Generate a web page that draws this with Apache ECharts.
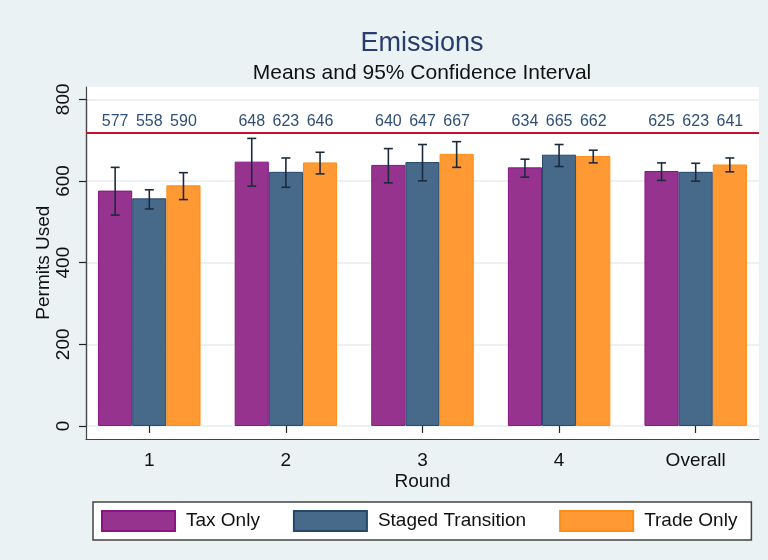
<!DOCTYPE html>
<html>
<head>
<meta charset="utf-8">
<script src="https://cdn.jsdelivr.net/npm/echarts@6/dist/echarts.min.js"></script>
<style>
  html, body {margin: 0; padding: 0; background: #eaf2f3;}
  #chart {width: 768px; height: 560px;}
</style>
</head>
<body>
<div id="chart"></div>
<script>
// data
const rounds = ['1', '2', '3', '4', 'Overall'];
const taxMean = [577, 648, 640, 634, 625];
const taxLow = [517, 588, 596, 610, 602];
const taxHigh = [634, 705, 680, 654, 645];
const stagedMean = [558, 623, 647, 665, 623];
const stagedLow = [532, 585, 601, 636, 600];
const stagedHigh = [579, 657, 690, 690, 644];
const tradeMean = [590, 646, 667, 662, 641];
const tradeLow = [555, 618, 634, 645, 623];
const tradeHigh = [621, 671, 697, 676, 657];
const yMin = 0, yMax = 800, yStep = 200;
const refLine = 720;

const labelY = 747;
const font = '"Liberation Sans", Arial, sans-serif';

const groups = [
  {name: 'Tax Only', mean: taxMean, low: taxLow, high: taxHigh, color: '#96338f', border: '#8a1486'},
  {name: 'Staged Transition', mean: stagedMean, low: stagedLow, high: stagedHigh, color: '#486a8a', border: '#24476b'},
  {name: 'Trade Only', mean: tradeMean, low: tradeLow, high: tradeHigh, color: '#ff9933', border: '#ff8c14'}
];

function renderCI(params, api) {
  const cat = api.value(0);
  const k = api.value(4);
  const bw = api.size([1, 0])[0] * 0.75 / 3;
  const x = api.coord([cat, 0])[0] + (k - 1) * bw;
  const yHi = api.coord([cat, api.value(2)])[1];
  const yLo = api.coord([cat, api.value(1)])[1];
  const yLab = api.coord([cat, labelY])[1];
  const cap = 4.5;
  const st = {stroke: '#1c2b3c', lineWidth: 1.6};
  return {
    type: 'group',
    children: [
      {type: 'line', shape: {x1: x, y1: yHi, x2: x, y2: yLo}, style: st},
      {type: 'line', shape: {x1: x - cap, y1: yHi, x2: x + cap, y2: yHi}, style: st},
      {type: 'line', shape: {x1: x - cap, y1: yLo, x2: x + cap, y2: yLo}, style: st},
      {
        type: 'text', x: x, y: yLab,
        style: {text: String(api.value(3)), fill: '#2f4f75', fontSize: 16, fontFamily: font, align: 'center', verticalAlign: 'middle'}
      }
    ]
  };
}

const chart = echarts.init(document.getElementById('chart'));

const series = [
  {
    type: 'line', xAxisIndex: 0, yAxisIndex: 0, data: [], silent: true,
    markLine: {
      silent: true, symbol: 'none', label: {show: false},
      lineStyle: {color: '#c8102e', width: 2, type: 'solid'},
      data: [{yAxis: refLine}]
    }
  }
];
groups.forEach(g => {
  series.push({
    name: g.name, type: 'bar', xAxisIndex: 1, yAxisIndex: 1,
    data: g.mean, barGap: '0%', barCategoryGap: '25%',
    itemStyle: {color: g.color, borderColor: g.border, borderWidth: 1}
  });
});
groups.forEach((g, k) => {
  series.push({
    type: 'custom', xAxisIndex: 1, yAxisIndex: 1, z: 5,
    renderItem: renderCI,
    data: rounds.map((r, i) => [i, g.low[i], g.high[i], g.mean[i], k])
  });
});

chart.setOption({
  backgroundColor: '#eaf2f3',
  animation: false,
  textStyle: {fontFamily: font},
  title: {
    text: 'Emissions',
    subtext: 'Means and 95% Confidence Interval',
    left: 422, top: 30, padding: 0, itemGap: 6, textAlign: 'center',
    textStyle: {color: '#283d6f', fontSize: 27, fontWeight: 'normal', fontFamily: font},
    subtextStyle: {color: '#111', fontSize: 21, fontFamily: font}
  },
  legend: {
    data: groups.map(g => g.name),
    left: 93, top: 502,
    padding: [8, 14, 8, 8],
    itemWidth: 73, itemHeight: 20, itemGap: 33,
    icon: 'rect',
    borderColor: '#444', borderWidth: 1.5, backgroundColor: '#fff',
    textStyle: {fontSize: 19, color: '#111', fontFamily: font, padding: [0, 0, 0, 6]}
  },
  grid: [
    // white plot region with the two axis lines
    {left: 86, right: 9, top: 87, bottom: 121, show: true, backgroundColor: '#fff', borderWidth: 0},
    // bars
    {left: 81, right: 4, top: 87, bottom: 121},
    // y ticks 0..800
    {left: 86, right: 9, top: 99.3, bottom: 134}
  ],
  xAxis: [
    {
      type: 'value', gridIndex: 0, min: 0, max: 1,
      axisLine: {show: true, onZero: false, lineStyle: {color: '#444', width: 1.2}},
      axisTick: {show: false}, axisLabel: {show: false}, splitLine: {show: false}
    },
    {
      type: 'category', gridIndex: 1, data: rounds,
      axisLine: {show: false},
      axisTick: {show: true, alignWithLabel: true, length: 7, lineStyle: {color: '#222', width: 1.2}},
      axisLabel: {fontSize: 19, color: '#111', margin: 12},
      name: 'Round', nameLocation: 'middle', nameGap: 33, nameMoveOverlap: false,
      nameTextStyle: {fontSize: 19, color: '#111'}
    },
    {type: 'value', gridIndex: 2, min: 0, max: 1, show: false}
  ],
  yAxis: [
    {
      type: 'value', gridIndex: 0, min: -32, max: 831,
      axisLine: {show: true, onZero: false, lineStyle: {color: '#444', width: 1.2}},
      axisTick: {show: false}, axisLabel: {show: false}, splitLine: {show: false}
    },
    {type: 'value', gridIndex: 1, min: -32, max: 831, show: false},
    {
      type: 'value', gridIndex: 2, min: yMin, max: yMax, interval: yStep,
      axisLine: {show: true, onZero: false, lineStyle: {color: '#444', width: 1.2}},
      axisTick: {show: true, length: 7, lineStyle: {color: '#222', width: 1.2}},
      axisLabel: {rotate: 90, fontSize: 19, color: '#111', margin: 13},
      splitLine: {show: true, lineStyle: {color: '#e6eef0', width: 1.5}},
      name: 'Permits Used', nameLocation: 'middle', nameGap: 33, nameMoveOverlap: false,
      nameTextStyle: {fontSize: 19, color: '#111'}
    }
  ],
  series: series
});
</script>
</body>
</html>
